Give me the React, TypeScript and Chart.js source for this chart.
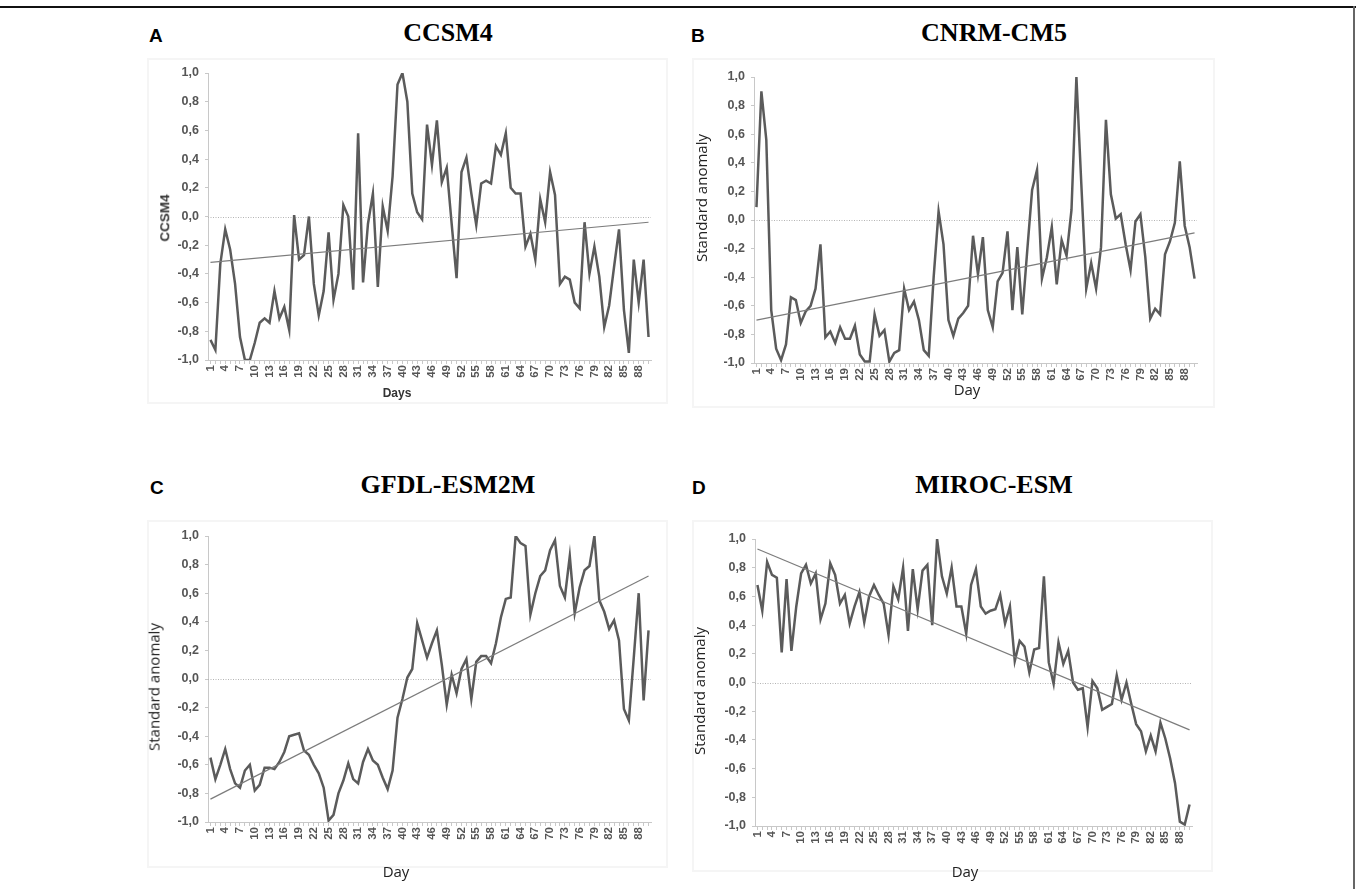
import React, { useEffect, useRef } from 'react';
import { Chart, registerables } from 'chart.js';

Chart.register(...registerables);

// ---- categories / tick labels ----
const days: string[] = Array.from({ length: 90 }, (_, i) => String(i + 1));
const yMin = -1;
const yMax = 1;
const yStep = 0.2;

// ---- series values (standard anomaly) ----
const ccsm4 = [
  -0.86, -0.93, -0.33, -0.09, -0.23, -0.47, -0.84, -1.0, -1.0, -0.88,
  -0.74, -0.71, -0.74, -0.52, -0.71, -0.63, -0.79, 0.01, -0.3, -0.27,
  0.0, -0.47, -0.69, -0.52, -0.11, -0.58, -0.4, 0.08, 0.0, -0.51,
  0.58, -0.46, -0.05, 0.16, -0.49, 0.07, -0.1, 0.28, 0.92, 1.0,
  0.8, 0.16, 0.03, -0.02, 0.64, 0.36, 0.67, 0.24, 0.34, -0.05,
  -0.43, 0.31, 0.41, 0.16, -0.06, 0.23, 0.25, 0.23, 0.49, 0.43,
  0.58, 0.2, 0.16, 0.16, -0.21, -0.12, -0.3, 0.12, -0.04, 0.31,
  0.15, -0.47, -0.42, -0.44, -0.6, -0.64, -0.04, -0.4, -0.21, -0.42,
  -0.77, -0.62, -0.35, -0.09, -0.65, -0.95, -0.3, -0.6, -0.3, -0.84,
];
const cnrm = [
  0.09, 0.9, 0.56, -0.63, -0.9, -0.98, -0.87, -0.54, -0.56, -0.72,
  -0.64, -0.6, -0.48, -0.17, -0.82, -0.78, -0.86, -0.75, -0.83, -0.83,
  -0.74, -0.94, -0.99, -0.99, -0.66, -0.81, -0.77, -0.99, -0.93, -0.91,
  -0.48, -0.63, -0.57, -0.7, -0.91, -0.95, -0.4, 0.06, -0.17, -0.7,
  -0.81, -0.69, -0.65, -0.6, -0.11, -0.38, -0.12, -0.63, -0.75, -0.43,
  -0.37, -0.08, -0.63, -0.19, -0.66, -0.22, 0.21, 0.35, -0.41, -0.26,
  -0.05, -0.45, -0.14, -0.25, 0.07, 1.0, 0.25, -0.48, -0.3, -0.48,
  -0.19, 0.7, 0.18, 0.01, 0.04, -0.17, -0.35, -0.01, 0.04, -0.26,
  -0.69, -0.62, -0.66, -0.24, -0.15, -0.02, 0.41, -0.04, -0.19, -0.41,
];
const gfdl = [
  -0.55, -0.7, -0.6, -0.49, -0.63, -0.73, -0.76, -0.64, -0.6, -0.78,
  -0.74, -0.62, -0.62, -0.63, -0.58, -0.51, -0.4, -0.39, -0.38, -0.5,
  -0.53, -0.6, -0.66, -0.76, -0.99, -0.95, -0.8, -0.71, -0.59, -0.7,
  -0.73, -0.58, -0.49, -0.57, -0.6, -0.69, -0.77, -0.64, -0.27, -0.14,
  0.01, 0.07, 0.39, 0.27, 0.15, 0.25, 0.34, 0.1, -0.18, 0.03,
  -0.1, 0.07, 0.14, -0.14, 0.12, 0.16, 0.16, 0.11, 0.25, 0.43,
  0.56, 0.57, 1.0, 0.95, 0.93, 0.45, 0.6, 0.72, 0.76, 0.9,
  0.97, 0.65, 0.57, 0.86, 0.46, 0.64, 0.76, 0.79, 1.0, 0.55,
  0.47, 0.35, 0.41, 0.27, -0.21, -0.29, 0.15, 0.6, -0.15, 0.34,
];
const miroc = [
  0.68, 0.5, 0.84, 0.75, 0.73, 0.21, 0.72, 0.22, 0.53, 0.76,
  0.82, 0.69, 0.76, 0.44, 0.55, 0.83, 0.75, 0.55, 0.61, 0.41,
  0.53, 0.63, 0.42, 0.6, 0.68, 0.61, 0.55, 0.33, 0.67, 0.58,
  0.8, 0.36, 0.79, 0.51, 0.78, 0.82, 0.4, 1.0, 0.74, 0.62,
  0.8, 0.53, 0.53, 0.34, 0.68, 0.79, 0.53, 0.48, 0.5, 0.51,
  0.61, 0.41, 0.53, 0.15, 0.29, 0.25, 0.07, 0.23, 0.24, 0.74,
  0.14, -0.01, 0.28, 0.13, 0.22, 0.0, -0.05, -0.04, -0.31, 0.01,
  -0.04, -0.19, -0.17, -0.15, 0.05, -0.12, 0.0, -0.15, -0.29, -0.34,
  -0.48, -0.37, -0.48, -0.28, -0.39, -0.53, -0.7, -0.97, -0.99, -0.85,
];

// linear trend lines: value at day 1 and at day 90
const ccsm4Trend = [-0.32, -0.04];
const cnrmTrend = [-0.7, -0.09];
const gfdlTrend = [-0.84, 0.72];
const mirocTrend = [0.93, -0.33];

const SANS = "'Liberation Sans', Arial, sans-serif";
const SERIF = "'Liberation Serif', 'Times New Roman', serif";
const CAL = "'Open Sans', 'Noto Sans', sans-serif";

const zeroLine = {
  id: 'zeroLine',
  beforeDatasetsDraw(chart: any) {
    const { ctx, chartArea, scales } = chart;
    const y = Math.round(scales.y.getPixelForValue(0)) + 0.5;
    ctx.save();
    ctx.strokeStyle = '#b4b4b4';
    ctx.lineWidth = 1;
    ctx.setLineDash([1, 1.5]);
    ctx.beginPath();
    ctx.moveTo(chartArea.left, y);
    ctx.lineTo(chartArea.right, y);
    ctx.stroke();
    ctx.restore();
  },
};

type Area = { l: number; r: number; t: number; b: number };

function Panel({ values, trend, area }: { values: number[]; trend: number[]; area: Area }) {
  const ref = useRef<HTMLCanvasElement>(null);
  const padL = 75;
  const padT = 15;
  const padR = 22;
  const padB = 50;
  const xH = 44;
  const cLeft = area.l - padL;
  const cTop = area.t - padT;
  const cW = area.r - area.l + padL + padR;
  const cH = area.b - area.t + padT + padB;

  useEffect(() => {
    const chart = new Chart(ref.current as HTMLCanvasElement, {
      type: 'line',
      data: {
        labels: days,
        datasets: [
          {
            data: values,
            borderColor: '#5b5b5b',
            borderWidth: 2.5,
            pointRadius: 0,
            tension: 0,
            fill: false,
            order: 2,
          },
          {
            data: [
              { x: days[0], y: trend[0] },
              { x: days[days.length - 1], y: trend[1] },
            ] as any,
            borderColor: '#7c7c7c',
            borderWidth: 1.2,
            pointRadius: 0,
            tension: 0,
            fill: false,
            order: 1,
          },
        ],
      },
      options: {
        animation: false,
        responsive: false,
        maintainAspectRatio: false,
        events: [],
        layout: { padding: { left: 0, top: padT, right: padR, bottom: padB - xH } },
        plugins: { legend: { display: false }, tooltip: { enabled: false }, title: { display: false } },
        scales: {
          x: {
            type: 'category',
            offset: true,
            afterFit: (s: any) => {
              s.height = xH;
            },
            grid: { display: true, drawOnChartArea: false, drawTicks: true, tickLength: 4, color: '#c8c8c8', lineWidth: 1 },
            border: { display: true, color: '#c8c8c8', width: 1 },
            ticks: {
              autoSkip: false,
              maxRotation: 90,
              minRotation: 90,
              padding: 1,
              color: '#555',
              font: { family: SANS, size: 11.5, weight: 'bold' as const },
              callback: function (this: any, val: any, index: number) {
                return index % 3 === 0 ? days[index] : '';
              },
            },
          },
          y: {
            min: yMin,
            max: yMax,
            afterFit: (s: any) => {
              s.width = padL;
            },
            grid: { display: true, drawOnChartArea: false, drawTicks: true, tickLength: 3, color: '#c8c8c8', lineWidth: 1 },
            border: { display: true, color: '#c8c8c8', width: 1 },
            ticks: {
              stepSize: yStep,
              padding: 6,
              color: '#555',
              font: { family: SANS, size: 12.5, weight: 'bold' as const },
              callback: (v: any) => {
                const n = Number(v);
                return (Math.abs(n) < 1e-9 ? 0 : n).toFixed(1).replace('.', ',');
              },
            },
          },
        },
      },
      plugins: [zeroLine],
    });
    return () => chart.destroy();
  }, []);

  return (
    <canvas
      ref={ref}
      width={cW}
      height={cH}
      style={{ position: 'absolute', left: cLeft, top: cTop, width: cW, height: cH }}
    />
  );
}

function Txt({
  x,
  base,
  text,
  family,
  size,
  weight = 'normal',
  align = 'left',
  color = '#000',
}: {
  x: number;
  base: number;
  text: string;
  family: string;
  size: number;
  weight?: string;
  align?: 'left' | 'center';
  color?: string;
}) {
  const k = family === SERIF ? 0.8375 : family === CAL ? 0.86 : 0.8465;
  return (
    <div
      style={{
        position: 'absolute',
        left: x,
        top: base - k * size,
        fontFamily: family,
        fontSize: size,
        fontWeight: weight as any,
        lineHeight: 1,
        whiteSpace: 'nowrap',
        color,
        transform: align === 'center' ? 'translateX(-50%)' : undefined,
      }}
    >
      {text}
    </div>
  );
}

function VTxt({ cx, cy, text, family, size, weight = 'normal', color = '#222' }: any) {
  return (
    <div
      style={{
        position: 'absolute',
        left: cx,
        top: cy,
        fontFamily: family,
        fontSize: size,
        fontWeight: weight,
        lineHeight: 1,
        whiteSpace: 'nowrap',
        color,
        transform: 'translate(-50%, -50%) rotate(-90deg)',
      }}
    >
      {text}
    </div>
  );
}

function Frame({ l, t, r, b }: { l: number; t: number; r: number; b: number }) {
  return (
    <div
      style={{
        position: 'absolute',
        left: l,
        top: t,
        width: r - l,
        height: b - t,
        border: '2px solid #f5f5f5',
        boxSizing: 'border-box',
      }}
    />
  );
}

export default function App() {
  return (
    <div
      style={{
        position: 'absolute',
        left: 0,
        top: 0,
        width: 1357,
        height: 889,
        background: '#fff',
        overflow: 'hidden',
      }}
    >
      <div style={{ position: 'absolute', left: 0, top: 6, width: 1356, height: 2, background: '#111' }} />
      <div style={{ position: 'absolute', left: 1353, top: 6, width: 2, height: 883, background: '#666' }} />

      <Frame l={147} t={58} r={668} b={404} />
      <Frame l={692} t={58} r={1215} b={408} />
      <Frame l={147} t={520} r={668} b={868} />
      <Frame l={692} t={520} r={1213} b={872} />

      <Panel values={ccsm4} trend={ccsm4Trend} area={{ l: 208, r: 651, t: 73, b: 360 }} />
      <Panel values={cnrm} trend={cnrmTrend} area={{ l: 754, r: 1197, t: 77, b: 363 }} />
      <Panel values={gfdl} trend={gfdlTrend} area={{ l: 208, r: 651, t: 536, b: 822 }} />
      <Panel values={miroc} trend={mirocTrend} area={{ l: 755, r: 1192, t: 539, b: 826 }} />

      <Txt x={149} base={42} text="A" family={SANS} size={19} weight="bold" />
      <Txt x={691} base={42} text="B" family={SANS} size={19} weight="bold" />
      <Txt x={150} base={494} text="C" family={SANS} size={19} weight="bold" />
      <Txt x={692} base={494} text="D" family={SANS} size={19} weight="bold" />

      <Txt x={448} base={42} text="CCSM4" family={SERIF} size={26} weight="bold" align="center" />
      <Txt x={994} base={42} text="CNRM-CM5" family={SERIF} size={26} weight="bold" align="center" />
      <Txt x={448} base={494} text="GFDL-ESM2M" family={SERIF} size={26} weight="bold" align="center" />
      <Txt x={994} base={494} text="MIROC-ESM" family={SERIF} size={26} weight="bold" align="center" />

      <VTxt cx={165} cy={218} text="CCSM4" family={SANS} size={13.5} weight="bold" color="#333" />
      <VTxt cx={701} cy={198} text="Standard anomaly" family={CAL} size={15} />
      <VTxt cx={154} cy={687} text="Standard anomaly" family={CAL} size={15} />
      <VTxt cx={699} cy={691} text="Standard anomaly" family={CAL} size={15} />

      <Txt x={397} base={397} text="Days" family={SANS} size={12} weight="bold" align="center" color="#333" />
      <Txt x={967} base={395} text="Day" family={CAL} size={15} align="center" color="#222" />
      <Txt x={396} base={877} text="Day" family={CAL} size={15} align="center" color="#222" />
      <Txt x={965} base={877} text="Day" family={CAL} size={15} align="center" color="#222" />
    </div>
  );
}
